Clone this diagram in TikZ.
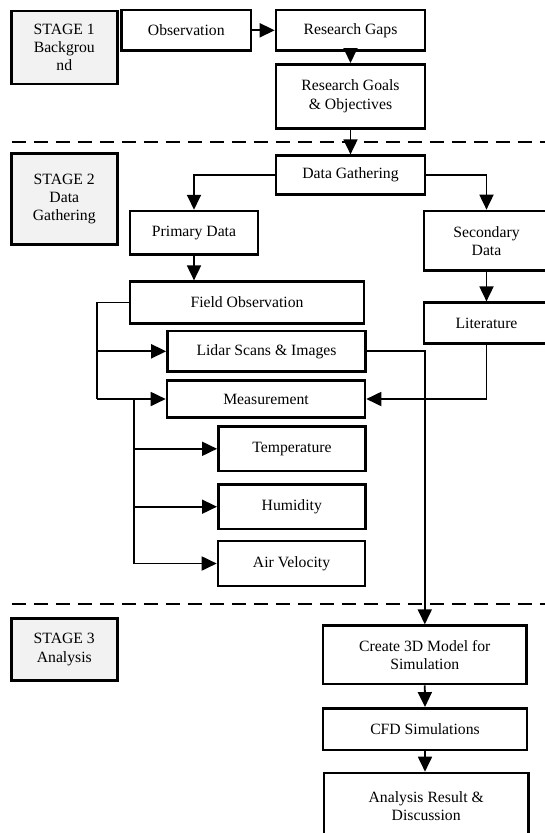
\documentclass[tikz,border=0pt]{standalone}
\usepackage{fontspec}
\setmainfont{Liberation Serif}
\usetikzlibrary{arrows.meta}
\definecolor{stagegray}{HTML}{F2F2F2}
\tikzset{
  box/.style={draw=black, line width=2.6pt, rectangle, inner sep=0pt, align=center,
    font=\fontsize{15.7}{18.3}\selectfont},
  stagebox/.style={box, fill=stagegray},
  conn/.style={line width=1.8pt, -{Triangle[length=15pt,width=14pt]}},
  plain/.style={line width=1.8pt},
  sep/.style={line width=2.2pt, dash pattern=on 14pt off 8pt}
}
\begin{document}
\begin{tikzpicture}[x=1pt,y=-1pt]
\useasboundingbox (0,0) rectangle (545,833);
\clip (0,0) rectangle (545,833);
\fill[white] (0,0) rectangle (545,833);
% stage boxes
\node[stagebox, minimum width=106pt, minimum height=73.3pt] (st1) at (64.3,47.5) {STAGE 1\\Backgrou\\nd};
\node[stagebox, minimum width=106pt, minimum height=91pt] (st2) at (64.3,198.8) {STAGE 2\\Data\\Gathering};
\node[stagebox, minimum width=106pt, minimum height=62.4pt] (st3) at (64.3,649.5) {STAGE 3\\Analysis};
% stage 1
\node[box, minimum width=129.3pt, minimum height=40.7pt] (obs) at (186.3,30.3) {Observation};
\node[box, minimum width=149pt, minimum height=40.7pt] (gaps) at (350.5,30.3) {Research Gaps};
\node[box, minimum width=149pt, minimum height=64pt] (goals) at (350.5,96.3) {Research Goals\\\& Objectives};
% separators
\coordinate (d1a) at (11.5,141.7); \coordinate (d1b) at (548,141.7);
\coordinate (d2a) at (11.5,604); \coordinate (d2b) at (548,604);
\draw[sep] (d1a) -- (d1b);
\draw[sep] (d2a) -- (d2b);
% stage 2
\node[box, minimum width=149pt, minimum height=38.6pt] (dg) at (350.5,175) {Data Gathering};
\node[box, minimum width=128pt, minimum height=43.3pt] (prim) at (194,232.7) {Primary Data};
\node[box, minimum width=125pt, minimum height=59.7pt] (sec) at (486.5,240.8) {Secondary\\Data};
\node[box, minimum width=234pt, minimum height=41.6pt] (fobs) at (247,302.5) {Field Observation};
\node[box, minimum width=125pt, minimum height=40.6pt] (lit) at (486.5,323) {Literature};
\node[box, minimum width=198pt, minimum height=40.7pt] (lidar) at (266.5,351.3) {Lidar Scans \& Images};
\node[box, minimum width=198pt, minimum height=36.6pt] (meas) at (266,399) {Measurement};
\node[box, minimum width=147.3pt, minimum height=44.3pt] (temp) at (292,448.8) {Temperature};
\node[box, minimum width=147pt, minimum height=44.7pt] (hum) at (291.8,506.7) {Humidity};
\node[box, minimum width=147pt, minimum height=45pt] (air) at (291.5,563.5) {Air Velocity};
% stage 3
\node[box, minimum width=203.6pt, minimum height=58.3pt] (create) at (424.8,654.8) {Create 3D Model for\\Simulation};
\node[box, minimum width=204pt, minimum height=41.7pt] (cfd) at (425,729.2) {CFD Simulations};
\node[box, minimum width=204.5pt, minimum height=66pt] (ana) at (426.2,806) {Analysis Result \&\\Discussion};
% connectors stage 1
\draw[conn] (obs.east) -- (gaps.west);
\draw[conn] (gaps.south) -- (goals.north);
\draw[conn] (goals.south) -- (dg.north);
% stage 2
\draw[conn] (dg.west) -| (prim.north);
\draw[conn] (dg.east) -| (sec.north);
\draw[conn] (prim.south) -- (prim.south |- fobs.north);
\draw[conn] (sec.south) -- (lit.north);
\coordinate (lx) at (97.3,303.3);
\draw[plain] (fobs.west) -- (lx |- fobs.west) -- (lx |- meas.west);
\draw[conn] (lx |- lidar.west) -- (lidar.west);
\draw[conn] (lx |- meas.west) -- (meas.west);
\draw[conn] (lit.south) |- (meas.east);
\coordinate (mx) at (133.8,399);
\draw[plain] (mx |- meas.west) -- (mx |- air.west);
\draw[conn] (mx |- temp.west) -- (temp.west);
\draw[conn] (mx |- hum.west) -- (hum.west);
\draw[conn] (mx |- air.west) -- (air.west);
% to stage 3
\draw[conn] (lidar.east) -| (create.north);
\draw[conn] (create.south) -- (cfd.north);
\draw[conn] (cfd.south) -- (cfd.south |- ana.north);
\end{tikzpicture}
\end{document}
